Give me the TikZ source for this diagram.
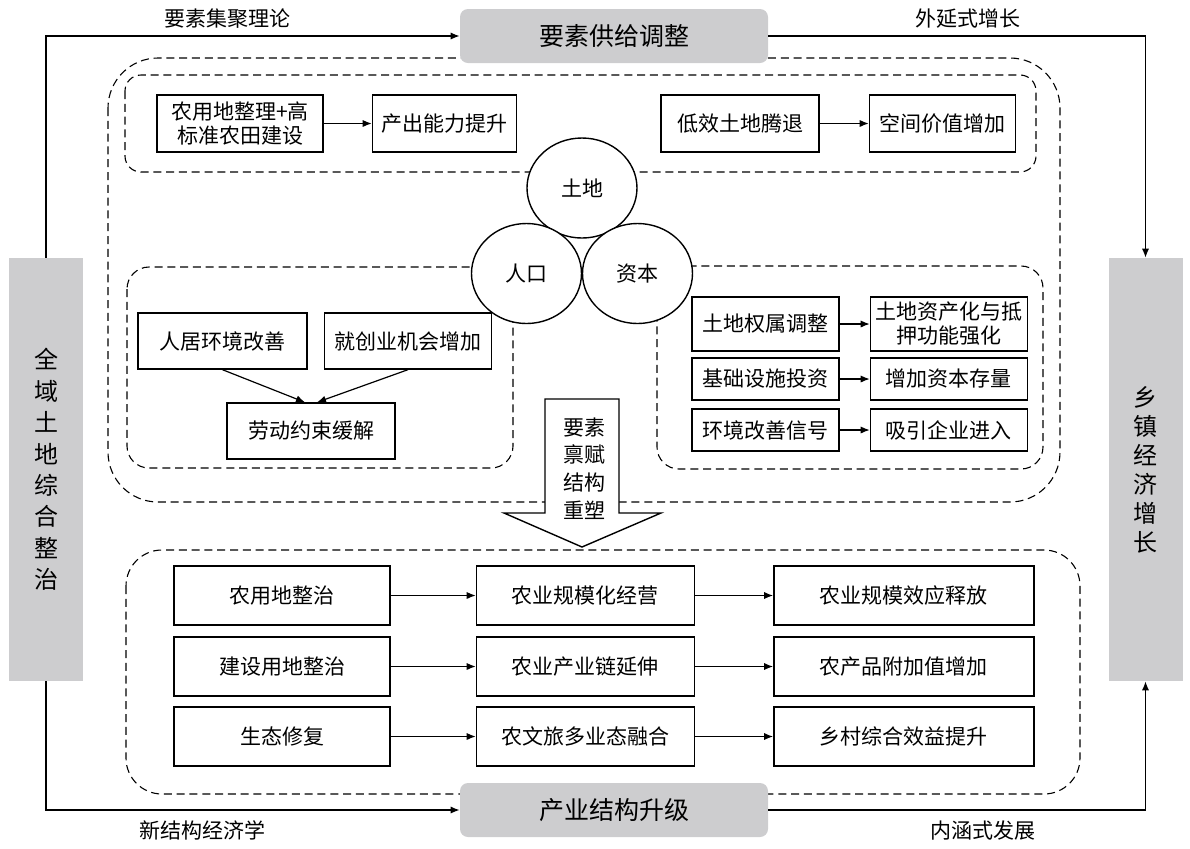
\documentclass[tikz,border=0pt]{standalone}
\usepackage{fontspec}
\setmainfont{Noto Sans CJK SC}
\usetikzlibrary{positioning, arrows.meta, shapes.geometric}
\definecolor{barGrey}{RGB}{205,205,207}
\tikzset{
	arrow/.style={
		draw=black,
		line width=0.6pt,
		-{Latex[length=4.5pt,width=3.6pt]}
	},
	box/.style={draw=black, line width=0.7pt, rectangle, align=center, inner sep=0pt, font=\fontsize{10.5}{12}\selectfont},
	group/.style={draw=black, line width=0.55pt, dash pattern=on 4pt off 2.4pt},
	stage/.style={fill=barGrey, rounded corners=4pt, minimum width=154pt, minimum height=27pt, inner sep=0pt, font=\fontsize{12.5}{15}\selectfont},
	side/.style={fill=barGrey, minimum width=37pt, minimum height=211.5pt, inner sep=0pt, align=center},
	factor/.style={draw=black, ellipse, line width=0.7pt, fill=white, minimum width=55pt, minimum height=50pt, inner sep=0pt, font=\fontsize{10.5}{12}\selectfont},
	theory/.style={font=\fontsize{10.5}{12}\selectfont},
}

\begin{document}
\begin{tikzpicture}[x=0.5pt, y=-0.5pt]
\useasboundingbox (0,0) rectangle (1190,848);

% Groups
\draw[group, rounded corners=25pt] (108,58) rectangle (1060,502);
\draw[group, rounded corners=8pt] (125,75) rectangle (1036,172);
\draw[group, rounded corners=11pt] (127,267) rectangle (513,468);
\draw[group, rounded corners=11pt] (657,266) rectangle (1043,469);
\draw[group, rounded corners=18pt] (126,550) rectangle (1080,794);

% Stages
\node[stage] (Supply) at (614,36) {要素供给调整};
\node[stage] (Upgrade) at (614,810) {产业结构升级};

% Side bars
\node[
	side,
	font=\fontsize{12}{15.7}\selectfont
] (Whole) at (46,469.5) {全\\域\\土\\地\\综\\合\\整\\治};
\node[
	side,
	font=\fontsize{12}{14.5}\selectfont
] (Town) at (1145.5,469.5) {乡\\镇\\经\\济\\增\\长};

% Outer loop
\draw[arrow] (Whole.north) |- (Supply.west);
\draw[arrow] (Supply.east) -| (Town.north);
\draw[arrow] (Whole.south) |- (Upgrade.west);
\draw[arrow] (Upgrade.east) -| (Town.south);

\node[theory] (Agglo) at (227,19) {要素集聚理论};
\node[theory] (Extens) at (968,19) {外延式增长};
\node[theory] (NewStruct) at (202,830) {新结构经济学};
\node[theory] (Intens) at (983,830) {内涵式发展};

% Land
\node[box, minimum width=83pt, minimum height=28.5pt] (Consol) at (240,123.5) {农用地整理+高\\标准农田建设};
\node[box, minimum width=72pt, minimum height=28.5pt, right=24pt of Consol] (Output) {产出能力提升};
\node[box, minimum width=79pt, minimum height=28.5pt] (Idle) at (740,123.5) {低效土地腾退};
\node[box, minimum width=73pt, minimum height=28.5pt, right=24.5pt of Idle] (Space) {空间价值增加};
\draw[arrow] (Consol) -- (Output);
\draw[arrow] (Idle) -- (Space);

% Factors
\node[factor] (Land) at (582,188) {土地};
\node[factor] (People) at (526.5,273.5) {人口};
\node[factor] (Capital) at (637.5,273.5) {资本};

% Labour
\node[box, minimum width=84.5pt, minimum height=28pt] (Living) at (222.5,341) {人居环境改善};
\node[box, minimum width=83.5pt, minimum height=28pt, right=8pt of Living] (Jobs) {就创业机会增加};
\node[box, minimum width=84pt, minimum height=28pt] (Labour) at (311,431) {劳动约束缓解};
\draw[arrow] (Living.south) -- ([xshift=-3pt]Labour.north);
\draw[arrow] (Jobs.south) -- ([xshift=3pt]Labour.north);

% Capital
\node[box, minimum width=73.5pt, minimum height=27pt] (Rights) at (765.5,324) {土地权属调整};
\node[box, minimum width=78.5pt, minimum height=27pt, right=15pt of Rights] (Mortgage) {土地资产化与抵\\押功能强化};
\node[box, minimum width=73.5pt, minimum height=21pt] (Infra) at (765.5,379) {基础设施投资};
\node[box, minimum width=78.5pt, minimum height=21pt, right=15pt of Infra] (Stock) {增加资本存量};
\node[box, minimum width=73.5pt, minimum height=21pt] (Signal) at (765.5,430) {环境改善信号};
\node[box, minimum width=78.5pt, minimum height=21pt, right=15pt of Signal] (Firms) {吸引企业进入};
\draw[arrow] (Rights) -- (Mortgage);
\draw[arrow] (Infra) -- (Stock);
\draw[arrow] (Signal) -- (Firms);

% Endowment arrow
\draw[line width=0.7pt, fill=white] (545,399) -- (619,399) -- (619,513) -- (661,513) -- (582,547) -- (504,513) -- (545,513) -- cycle;
\node[font=\fontsize{10.5}{13.85}\selectfont, align=center] (Endow) at (584,468.5) {要素\\禀赋\\结构\\重塑};

% Industry
\node[box, minimum width=108pt, minimum height=29.5pt] (Farm) at (282,595.5) {农用地整治};
\node[box, minimum width=109pt, minimum height=29.5pt, right=42.5pt of Farm] (Scale) {农业规模化经营};
\node[box, minimum width=130pt, minimum height=29.5pt, right=39pt of Scale] (ScaleEff) {农业规模效应释放};
\node[box, minimum width=108pt, minimum height=29.5pt] (Build) at (282,666.5) {建设用地整治};
\node[box, minimum width=109pt, minimum height=29.5pt, right=42.5pt of Build] (Chain) {农业产业链延伸};
\node[box, minimum width=130pt, minimum height=29.5pt, right=39pt of Chain] (Value) {农产品附加值增加};
\node[box, minimum width=108pt, minimum height=29.5pt] (Eco) at (282,736.5) {生态修复};
\node[box, minimum width=109pt, minimum height=29.5pt, right=42.5pt of Eco] (Tour) {农文旅多业态融合};
\node[box, minimum width=130pt, minimum height=29.5pt, right=39pt of Tour] (Benefit) {乡村综合效益提升};
\draw[arrow] (Farm) -- (Scale);
\draw[arrow] (Scale) -- (ScaleEff);
\draw[arrow] (Build) -- (Chain);
\draw[arrow] (Chain) -- (Value);
\draw[arrow] (Eco) -- (Tour);
\draw[arrow] (Tour) -- (Benefit);

\end{tikzpicture}
\end{document}
